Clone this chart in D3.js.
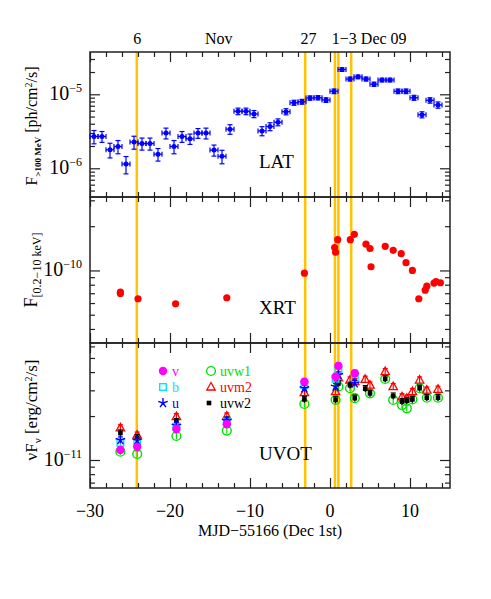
<!DOCTYPE html>
<html>
<head>
<meta charset="utf-8">
<script src="https://cdn.jsdelivr.net/npm/d3@7"></script>
<style>
  body { margin: 0; background: #fff; }
  text { font-family: "Liberation Serif", serif; }
</style>
</head>
<body>
<div id="chart"></div>
<script>
// LAT light curve (F>100 MeV, units 1e-6 ph/cm2/s)
var latDay = [-29.5, -28.5, -27.5, -26.5, -25.5, -24.5, -23.5, -22.5, -21.5, -20.5, -19.5, -18.5, -17.5, -16.5, -15.5,
  -14.5, -13.5, -12.5, -11.5, -10.5, -9.5, -8.5, -7.5, -6.5, -5.5, -4.5, -3.5, -2.5, -1.5, -0.5,
  0.5, 1.5, 2.5, 3.5, 4.5, 5.5, 6.5, 7.5, 8.5, 9.5, 10.5, 11.5, 12.5, 13.5];
var latFlux = [2.69, 2.69, 1.78, 1.97, 1.14, 2.26, 2.16, 2.16, 1.55, 2.99, 1.97, 2.69, 2.50, 2.99, 2.99,
  1.76, 1.45, 3.38, 5.90, 5.90, 5.43, 3.20, 3.67, 4.20, 5.83, 7.70, 7.94, 8.91, 8.99, 8.37,
  11.0, 21.6, 16.1, 17.2, 16.1, 13.7, 15.6, 15.6, 11.0, 11.0, 8.99, 5.30, 8.29, 7.18];
var latErr = [0.55, 0.45, 0.4, 0.4, 0.3, 0.45, 0.4, 0.4, 0.3, 0.5, 0.4, 0.45, 0.4, 0.45, 0.5,
  0.3, 0.3, 0.5, 0.6, 0.6, 0.6, 0.45, 0.45, 0.45, 0.55, 0.6, 0.6, 0.6, 0.6, 0.6,
  0.8, 1.2, 1.0, 1.0, 1.0, 0.9, 0.9, 0.9, 0.8, 0.8, 0.7, 0.5, 0.7, 0.7];

// XRT (0.2-10 keV, units 1e-10 erg/cm2/s)
var xrtDay = [-26.2, -26.2, -24.0, -19.3, -12.9, -3.2, 0.58, 0.7, 0.96, 2.54, 3.04, 4.5, 5.0, 5.13,
  6.9, 7.9, 8.9, 9.5, 10.3, 11.1, 11.9, 12.1, 13.0, 13.25, 13.8];
var xrtFlux = [0.712, 0.698, 0.642, 0.593, 0.652, 0.959, 1.43, 1.33, 1.62, 1.62, 1.76, 1.51, 1.41, 1.06,
  1.46, 1.37, 1.30, 1.13, 1.00, 0.642, 0.734, 0.782, 0.82, 0.841, 0.825];

// UVOT (nuFnu, units 1e-11 erg/cm2/s)
var uvDay = [-26.2, -24.1, -19.2, -12.9, -3.2, 0.7, 1.05, 2.5, 3.1, 4.4, 5.0, 6.9, 7.9, 9.0, 9.6, 10.3, 11.2, 12.1, 13.5];
var uvV = [1.17, 1.23, 1.63, 1.76, 3.44, 3.72, 4.40, null, 3.93, null, null, null, null, null, null, null, null, null, null];
var uvB = [1.31, 1.31, 1.69, 1.83, 3.26, 3.60, 4.13, null, 3.63, null, null, null, null, null, null, null, null, null, null];
var uvU = [1.37, 1.36, 1.72, 1.85, 3.10, 3.18, 3.82, null, 3.35, null, null, null, null, null, null, null, null, null, null];
var uvW1 = [1.14, 1.10, 1.46, 1.59, 2.42, 2.58, 3.18, 3.10, 2.65, null, 2.86, 3.59, 2.58, 2.38, 2.26, 2.60, 3.10, 2.67, 2.67];
var uvM2 = [1.66, 1.48, 1.98, 2.00, 2.89, 2.94, 3.65, 3.53, 3.45, 3.57, 3.26, 4.03, 3.18, 2.71, 2.65, 2.94, 3.53, 3.01, 3.05];
var uvW2 = [1.53, 1.42, 1.83, 1.88, 2.60, 2.58, 3.35, 3.25, 2.65, 3.08, 2.86, 3.59, 2.74, 2.51, 2.55, 2.60, 3.10, 2.67, 2.67];

// flare epochs (yellow lines) and top labels
var flareDays = [-24.15, -3.1, 0.62, 1.05, 2.65];
var topLabels = [{x: -24.1, t: "6"}, {x: -13.9, t: "Nov"}, {x: -2.7, t: "27"}, {x: 4.9, t: "1\u22123 Dec 09"}];

var svgW = 491, svgH = 599;
var left = 90, right = 450;
var panels = [{top: 52, bottom: 197}, {top: 197, bottom: 343}, {top: 343, bottom: 488}];

var svg = d3.select("#chart").append("svg")
  .attr("width", svgW)
  .attr("height", svgH);

var x = d3.scaleLinear().domain([-30, 15]).range([left, right]);

var yLat = d3.scaleLog().domain([4.09e-7, 3.73e-5]).range([panels[0].bottom, panels[0].top]);
var yXrt = d3.scaleLog().domain([3.21e-11, 3.16e-10]).range([panels[1].bottom, panels[1].top]);
var yUv = d3.scaleLog().domain([6.43e-12, 6.33e-11]).range([panels[2].bottom, panels[2].top]);
var yScales = [yLat, yXrt, yUv];

// yellow flare lines
svg.selectAll("line.flare")
  .data(flareDays)
  .enter()
  .append("line")
  .attr("x1", d => x(d)).attr("x2", d => x(d))
  .attr("y1", panels[0].top).attr("y2", panels[2].bottom)
  .attr("stroke", "#ffc400")
  .attr("stroke-width", 2.5);

function logTicks(scale) {
  var d = scale.domain(), major = [], minor = [];
  for (var k = Math.floor(Math.log10(d[0])); k <= Math.ceil(Math.log10(d[1])); k++) {
    for (var m = 1; m < 10; m++) {
      var v = m * Math.pow(10, k);
      if (v < d[0] || v > d[1]) continue;
      (m === 1 ? major : minor).push(v);
    }
  }
  return {major: major, minor: minor};
}

var xMajor = [-30, -20, -10, 0, 10];
var xMinor = d3.range(-28, 15, 2).filter(v => v % 10 !== 0);

panels.forEach(function(p, i) {
  var g = svg.append("g");
  var ys = yScales[i];
  var lt = logTicks(ys);

  // x ticks bottom (inward) and top (inward)
  g.append("g").attr("transform", `translate(0,${p.bottom})`)
    .call(d3.axisBottom(x).tickValues(xMajor).tickSize(-10).tickFormat(""));
  g.append("g").attr("transform", `translate(0,${p.bottom})`)
    .call(d3.axisBottom(x).tickValues(xMinor).tickSize(-5).tickFormat(""));
  g.append("g").attr("transform", `translate(0,${p.top})`)
    .call(d3.axisTop(x).tickValues(xMajor).tickSize(-10).tickFormat(""));
  g.append("g").attr("transform", `translate(0,${p.top})`)
    .call(d3.axisTop(x).tickValues(xMinor).tickSize(-5).tickFormat(""));

  // y ticks left and right
  g.append("g").attr("transform", `translate(${left},0)`)
    .call(d3.axisLeft(ys).tickValues(lt.major).tickSize(-10).tickFormat(""));
  g.append("g").attr("transform", `translate(${left},0)`)
    .call(d3.axisLeft(ys).tickValues(lt.minor).tickSize(-5).tickFormat(""));
  g.append("g").attr("transform", `translate(${right},0)`)
    .call(d3.axisRight(ys).tickValues(lt.major).tickSize(-10).tickFormat(""));
  g.append("g").attr("transform", `translate(${right},0)`)
    .call(d3.axisRight(ys).tickValues(lt.minor).tickSize(-5).tickFormat(""));

  g.selectAll(".domain").remove();
  g.selectAll(".tick line").attr("stroke", "#222").attr("stroke-width", 1.2);

  // frame
  g.append("rect")
    .attr("x", left).attr("y", p.top)
    .attr("width", right - left).attr("height", p.bottom - p.top)
    .attr("fill", "none").attr("stroke", "#222").attr("stroke-width", 1.5);

  // y tick labels 10^k
  lt.major.forEach(function(v) {
    var t = g.append("text")
      .attr("x", 82).attr("y", ys(v) + 6)
      .attr("text-anchor", "end")
      .attr("font-size", 20);
    t.append("tspan").text("10");
    t.append("tspan").attr("dy", -8).attr("font-size", 12).text("\u2212" + Math.abs(Math.round(Math.log10(v))));
  });
});

// x tick labels
svg.selectAll("text.xtick")
  .data(xMajor)
  .enter()
  .append("text")
  .attr("x", d => x(d))
  .attr("y", 517)
  .attr("text-anchor", "middle")
  .attr("font-size", 18)
  .text(d => d < 0 ? "\u2212" + Math.abs(d) : d);

svg.append("text")
  .attr("x", 270).attr("y", 536)
  .attr("text-anchor", "middle")
  .attr("font-size", 16)
  .text("MJD\u221255166 (Dec 1st)");

// top labels
svg.selectAll("text.toplab")
  .data(topLabels)
  .enter()
  .append("text")
  .attr("x", d => x(d.x))
  .attr("y", 44)
  .attr("text-anchor", "middle")
  .attr("font-size", 16)
  .text(d => d.t);

// y axis titles
var t1 = svg.append("text")
  .attr("transform", "translate(37,126) rotate(-90)")
  .attr("text-anchor", "middle")
  .attr("font-size", 16);
t1.append("tspan").text("F");
t1.append("tspan").attr("dy", 4).attr("font-size", 9).attr("font-weight", "bold").text(">100 MeV");
t1.append("tspan").attr("dy", -4).text(" [ph/cm");
t1.append("tspan").attr("dy", -5).attr("font-size", 10).text("2");
t1.append("tspan").attr("dy", 5).text("/s]");

var t2 = svg.append("text")
  .attr("transform", "translate(37,270) rotate(-90)")
  .attr("text-anchor", "middle")
  .attr("font-size", 18);
t2.append("tspan").text("F");
t2.append("tspan").attr("dy", 4).attr("font-size", 12).text("[0.2\u221210 keV]");

var t3 = svg.append("text")
  .attr("transform", "translate(37,410) rotate(-90)")
  .attr("text-anchor", "middle")
  .attr("font-size", 17);
t3.append("tspan").text("\u03bdF");
t3.append("tspan").attr("dy", 4).attr("font-size", 11).text("\u03bd");
t3.append("tspan").attr("dy", -4).text(" [erg/cm");
t3.append("tspan").attr("dy", -5).attr("font-size", 10).text("2");
t3.append("tspan").attr("dy", 5).text("/s]");

// panel names
[["LAT", 168], ["XRT", 314], ["UVOT", 460]].forEach(function(d) {
  svg.append("text").attr("x", 259).attr("y", d[1]).attr("font-size", 19).text(d[0]);
});

// LAT points with error bars
var latG = svg.append("g").attr("stroke", "#0000ff").attr("stroke-width", 1.2);
latDay.forEach(function(d, i) {
  var cx = x(d), cy = yLat(latFlux[i] * 1e-6);
  var y1 = yLat((latFlux[i] + latErr[i]) * 1e-6), y2 = yLat((latFlux[i] - latErr[i]) * 1e-6);
  var x1 = x(d - 0.5), x2 = x(d + 0.5);
  latG.append("line").attr("x1", x1).attr("x2", x2).attr("y1", cy).attr("y2", cy);
  latG.append("line").attr("x1", cx).attr("x2", cx).attr("y1", y1).attr("y2", y2);
  latG.append("line").attr("x1", cx - 2.5).attr("x2", cx + 2.5).attr("y1", y1).attr("y2", y1);
  latG.append("line").attr("x1", cx - 2.5).attr("x2", cx + 2.5).attr("y1", y2).attr("y2", y2);
  latG.append("line").attr("x1", x1).attr("x2", x1).attr("y1", cy - 2.5).attr("y2", cy + 2.5);
  latG.append("line").attr("x1", x2).attr("x2", x2).attr("y1", cy - 2.5).attr("y2", cy + 2.5);
  latG.append("circle").attr("cx", cx).attr("cy", cy).attr("r", 2.5).attr("fill", "#0000ff").attr("stroke", "none");
});

// XRT points
svg.selectAll("circle.xrt")
  .data(xrtDay)
  .enter()
  .append("circle")
  .attr("cx", d => x(d))
  .attr("cy", (d, i) => yXrt(xrtFlux[i] * 1e-10))
  .attr("r", 3.6)
  .attr("fill", "#ff0000");

// UVOT markers
function star(cx, cy, r) {
  var p = "";
  for (var k = 0; k < 5; k++) {
    var a = -Math.PI / 2 + k * 2 * Math.PI / 5;
    p += `M${cx},${cy}L${cx + r * Math.cos(a)},${cy + r * Math.sin(a)}`;
  }
  return p;
}
function marker(g, kind, cx, cy) {
  if (kind === "v") g.append("circle").attr("cx", cx).attr("cy", cy).attr("r", 4.2).attr("fill", "#ff00ff");
  if (kind === "b") g.append("rect").attr("x", cx - 3.3).attr("y", cy - 3.3).attr("width", 6.6).attr("height", 6.6)
    .attr("fill", "none").attr("stroke", "#00e5ff").attr("stroke-width", 1.4);
  if (kind === "u") g.append("path").attr("d", star(cx, cy, 5)).attr("stroke", "#0000ff").attr("stroke-width", 1.4);
  if (kind === "w1") g.append("circle").attr("cx", cx).attr("cy", cy).attr("r", 4.4)
    .attr("fill", "none").attr("stroke", "#00e000").attr("stroke-width", 1.4);
  if (kind === "m2") g.append("path").attr("d", `M${cx},${cy - 4.5}L${cx + 4.2},${cy + 3}L${cx - 4.2},${cy + 3}Z`)
    .attr("fill", "none").attr("stroke", "#ff0000").attr("stroke-width", 1.3);
  if (kind === "w2") g.append("rect").attr("x", cx - 2.3).attr("y", cy - 2.3).attr("width", 4.6).attr("height", 4.6).attr("fill", "#000");
}
var uvColors = {v: "#ff00ff", b: "#00e5ff", u: "#0000ff", w1: "#00e000", m2: "#ff0000", w2: "#000"};
var uvG = svg.append("g");
[["w1", uvW1], ["m2", uvM2], ["w2", uvW2], ["b", uvB], ["u", uvU], ["v", uvV]].forEach(function(s) {
  uvDay.forEach(function(d, i) {
    var v = s[1][i];
    if (v == null) return;
    var cx = x(d), cy = yUv(v * 1e-11);
    var e1 = yUv(v * 1.05 * 1e-11), e2 = yUv(v * 0.95 * 1e-11);
    uvG.append("line").attr("x1", cx).attr("x2", cx).attr("y1", e1).attr("y2", e2)
      .attr("stroke", uvColors[s[0]]).attr("stroke-width", 1.2);
    uvG.append("line").attr("x1", cx - 2.5).attr("x2", cx + 2.5).attr("y1", e1).attr("y2", e1)
      .attr("stroke", uvColors[s[0]]).attr("stroke-width", 1.2);
    marker(uvG, s[0], cx, cy);
  });
});

// UVOT legend
var legend = [
  {k: "v", t: "v", x: 163, y: 371}, {k: "b", t: "b", x: 163, y: 387}, {k: "u", t: "u", x: 163, y: 403},
  {k: "w1", t: "uvw1", x: 211, y: 371}, {k: "m2", t: "uvm2", x: 211, y: 387}, {k: "w2", t: "uvw2", x: 209, y: 403}
];
legend.forEach(function(l) {
  marker(svg, l.k, l.x, l.y);
  svg.append("text").attr("x", l.x + (l.k === "w2" ? 11 : 9)).attr("y", l.y + 5)
    .attr("font-size", 14).attr("fill", uvColors[l.k]).text(l.t);
});
</script>
</body>
</html>
